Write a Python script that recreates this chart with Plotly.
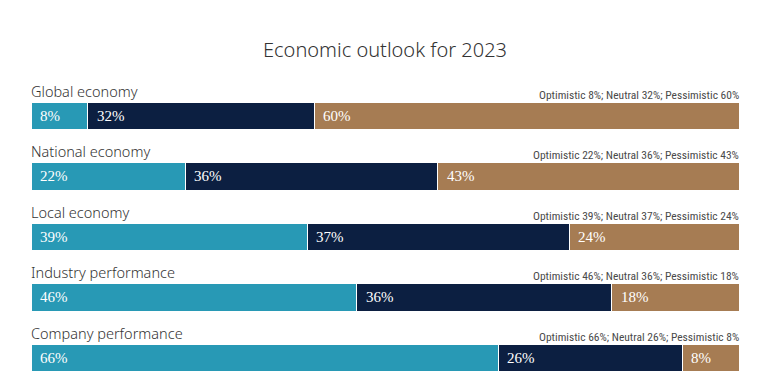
import plotly.graph_objects as go

categories = ["Global economy", "National economy", "Local economy",
              "Industry performance", "Company performance"]
optimistic = [8, 22, 39, 46, 66]
neutral = [32, 36, 37, 36, 26]
pessimistic = [60, 43, 24, 18, 8]
series_names = ["Optimistic", "Neutral", "Pessimistic"]
colors = ["#2899B5", "#0C1F41", "#A67C53"]

series = [optimistic, neutral, pessimistic]
ypos = list(range(len(categories)))

fig = go.Figure()
for name, vals, col in zip(series_names, series, colors):
    fig.add_trace(go.Bar(
        y=ypos, x=vals, name=name, orientation="h",
        marker=dict(color=col, line=dict(color="white", width=1)),
        width=0.46, hovertemplate=name + ": %{x}%<extra></extra>",
    ))

annotations = []
serif = "Liberation Serif, DejaVu Serif, serif"
for i, cat in enumerate(categories):
    vals = [s[i] for s in series]
    total = sum(vals)
    cum = 0
    for v in vals:
        start = cum / total * 100
        annotations.append(dict(
            x=start, y=i, xref="x", yref="y", text=f"{v}%",
            showarrow=False, xanchor="left", yanchor="middle", xshift=7,
            font=dict(family=serif, size=15, color="white"),
        ))
        cum += v
    annotations.append(dict(
        x=0, y=i - 0.25, xref="x", yref="y", text=cat, showarrow=False,
        xanchor="left", yanchor="bottom", xshift=-2, yshift=-2,
        font=dict(family="Noto Sans, sans-serif", size=14.5, color="#333333", weight=300),
    ))
    annotations.append(dict(
        x=100, y=i - 0.25, xref="x", yref="y",
        text=f"Optimistic {vals[0]}%; Neutral {vals[1]}%; Pessimistic {vals[2]}%",
        showarrow=False, xanchor="right", yanchor="bottom", xshift=2, yshift=-3,
        font=dict(family="Liberation Sans Narrow, Roboto Condensed, Roboto, sans-serif",
                  size=11.5, color="#4a4a4a"),
    ))

fig.update_layout(
    width=762, height=375,
    barmode="stack", barnorm="percent",
    margin=dict(l=23, r=31, t=62, b=3),
    paper_bgcolor="white", plot_bgcolor="white",
    showlegend=False,
    title=dict(text="Economic outlook for 2023", x=0.5, xanchor="center",
               xref="paper", y=0.888, yanchor="middle",
               font=dict(family="Noto Sans, sans-serif", size=20, color="#333333", weight=300)),
    xaxis=dict(range=[0, 100], visible=False, fixedrange=True),
    yaxis=dict(range=[4.364, -0.760], visible=False, fixedrange=True),
    annotations=annotations,
)

fig.write_html("out.html")
